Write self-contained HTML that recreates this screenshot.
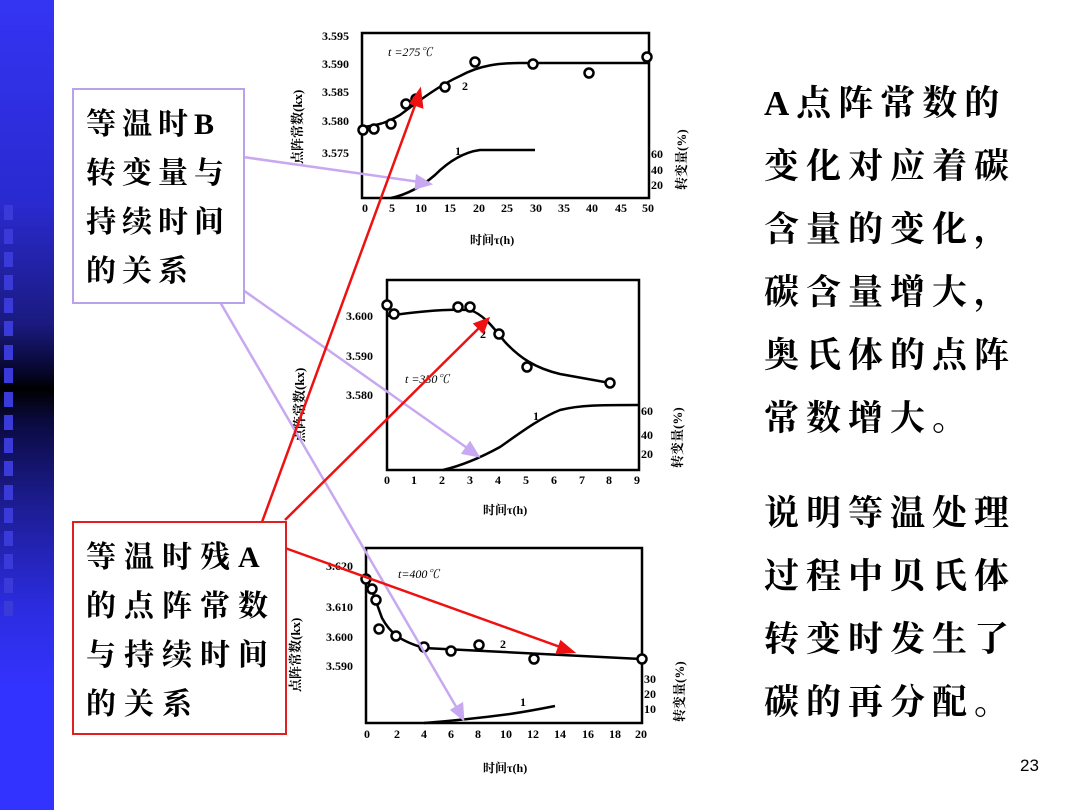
<!DOCTYPE html>
<html><head><meta charset="utf-8"><style>
body{margin:0;width:1080px;height:810px;background:#fff;position:relative;overflow:hidden;font-family:"Liberation Serif","Noto Serif CJK SC",serif;}
.bar{position:absolute;left:0;top:0;width:54px;height:810px;background:linear-gradient(to bottom,#3434f4 0%,#2a2ad0 25%,#1a1a80 40%,#06062a 46%,#000 48%,#0a0a40 52%,#1c1c90 62%,#2c2ce0 75%,#3333ff 85%,#3333ff 100%);}
.sq{position:absolute;left:4px;width:9px;height:15px;background:#3a3ad8;}
.box{position:absolute;background:#fff;font-weight:bold;font-size:30px;line-height:49px;padding:10px 0 0 12px;letter-spacing:6px;white-space:nowrap;}
.rt{position:absolute;left:764px;font-size:35px;font-weight:bold;line-height:63px;letter-spacing:7px;white-space:nowrap;}
</style></head><body>
<div class="bar"></div>
<div class="sq" style="top:205px"></div><div class="sq" style="top:229px"></div><div class="sq" style="top:252px"></div><div class="sq" style="top:275px"></div><div class="sq" style="top:298px"></div><div class="sq" style="top:321px"></div><div class="sq" style="top:345px"></div><div class="sq" style="top:368px"></div><div class="sq" style="top:392px"></div><div class="sq" style="top:415px"></div><div class="sq" style="top:438px"></div><div class="sq" style="top:461px"></div><div class="sq" style="top:485px"></div><div class="sq" style="top:508px"></div><div class="sq" style="top:531px"></div><div class="sq" style="top:554px"></div><div class="sq" style="top:578px"></div><div class="sq" style="top:601px"></div>
<svg width="1080" height="810" style="position:absolute;left:0;top:0" font-family="Liberation Serif,Noto Serif CJK SC,serif">
<g fill="none" stroke="#000" stroke-width="2.5">
<rect x="362" y="33" width="287" height="165"/>
<rect x="387" y="280" width="252" height="190"/>
<rect x="366" y="548" width="276" height="175"/>
<path d="M363,127 C380,125 388,122 400,115 C420,100 440,85 460,76 C480,65 500,63 520,63 L649,63"/>
<path d="M391,198 C405,195 420,188 435,175 C450,160 465,152 480,150 L535,150"/>
<path d="M387,316 C420,311 450,309 470,310 C485,315 495,330 505,342 C520,358 535,368 560,374 L610,383"/>
<path d="M443,470 C460,466 480,458 500,447 C520,433 540,418 560,410 C580,405 600,405 639,405"/>
<path d="M366,579 C372,588 376,602 382,618 C390,633 400,641 424,648 L642,659"/>
<path d="M424,723 C450,721 480,718 510,714 C530,711 545,708 555,706"/>
</g>
<g fill="#fff" stroke="#000" stroke-width="2.5">
<circle cx="363" cy="130" r="4.5"/><circle cx="374" cy="129" r="4.5"/><circle cx="391" cy="124" r="4.5"/><circle cx="406" cy="104" r="4.5"/><circle cx="416" cy="99" r="4.5"/><circle cx="445" cy="87" r="4.5"/><circle cx="475" cy="62" r="4.5"/><circle cx="533" cy="64" r="4.5"/><circle cx="589" cy="73" r="4.5"/><circle cx="647" cy="57" r="4.5"/>
<circle cx="387" cy="305" r="4.5"/><circle cx="394" cy="314" r="4.5"/><circle cx="458" cy="307" r="4.5"/><circle cx="470" cy="307" r="4.5"/><circle cx="499" cy="334" r="4.5"/><circle cx="527" cy="367" r="4.5"/><circle cx="610" cy="383" r="4.5"/>
<circle cx="366" cy="579" r="4.5"/><circle cx="372" cy="589" r="4.5"/><circle cx="376" cy="600" r="4.5"/><circle cx="379" cy="629" r="4.5"/><circle cx="396" cy="636" r="4.5"/><circle cx="424" cy="647" r="4.5"/><circle cx="451" cy="651" r="4.5"/><circle cx="479" cy="645" r="4.5"/><circle cx="534" cy="659" r="4.5"/><circle cx="642" cy="659" r="4.5"/>
</g>
<g font-size="12" fill="#000" font-weight="bold">
<text x="322" y="40">3.595</text><text x="322" y="68">3.590</text><text x="322" y="96">3.585</text><text x="322" y="125">3.580</text><text x="322" y="157">3.575</text>
<text x="365" y="212" text-anchor="middle">0</text><text x="392" y="212" text-anchor="middle">5</text><text x="421" y="212" text-anchor="middle">10</text><text x="450" y="212" text-anchor="middle">15</text><text x="479" y="212" text-anchor="middle">20</text><text x="507" y="212" text-anchor="middle">25</text><text x="536" y="212" text-anchor="middle">30</text><text x="564" y="212" text-anchor="middle">35</text><text x="592" y="212" text-anchor="middle">40</text><text x="621" y="212" text-anchor="middle">45</text><text x="648" y="212" text-anchor="middle">50</text>
<text x="651" y="158">60</text><text x="651" y="174">40</text><text x="651" y="189">20</text>
<text x="388" y="56" font-weight="normal" font-style="italic">t =275℃</text><text x="462" y="90">2</text><text x="455" y="155">1</text>
<text x="470" y="244" font-size="12">时间τ(h)</text>
<text x="346" y="320">3.600</text><text x="346" y="360">3.590</text><text x="346" y="399">3.580</text>
<text x="387" y="484" text-anchor="middle">0</text><text x="414" y="484" text-anchor="middle">1</text><text x="442" y="484" text-anchor="middle">2</text><text x="470" y="484" text-anchor="middle">3</text><text x="498" y="484" text-anchor="middle">4</text><text x="526" y="484" text-anchor="middle">5</text><text x="554" y="484" text-anchor="middle">6</text><text x="582" y="484" text-anchor="middle">7</text><text x="609" y="484" text-anchor="middle">8</text><text x="637" y="484" text-anchor="middle">9</text>
<text x="641" y="415">60</text><text x="641" y="439">40</text><text x="641" y="458">20</text>
<text x="405" y="383" font-weight="normal" font-style="italic">t =350℃</text><text x="480" y="338">2</text><text x="533" y="420">1</text>
<text x="483" y="514">时间τ(h)</text>
<text x="326" y="570">3.620</text><text x="326" y="611">3.610</text><text x="326" y="641">3.600</text><text x="326" y="670">3.590</text>
<text x="367" y="738" text-anchor="middle">0</text><text x="397" y="738" text-anchor="middle">2</text><text x="424" y="738" text-anchor="middle">4</text><text x="451" y="738" text-anchor="middle">6</text><text x="478" y="738" text-anchor="middle">8</text><text x="506" y="738" text-anchor="middle">10</text><text x="533" y="738" text-anchor="middle">12</text><text x="560" y="738" text-anchor="middle">14</text><text x="588" y="738" text-anchor="middle">16</text><text x="615" y="738" text-anchor="middle">18</text><text x="641" y="738" text-anchor="middle">20</text>
<text x="644" y="683">30</text><text x="644" y="698">20</text><text x="644" y="713">10</text>
<text x="398" y="578" font-weight="normal" font-style="italic">t=400℃</text><text x="500" y="648">2</text><text x="520" y="706">1</text>
<text x="483" y="772">时间τ(h)</text>
<text transform="translate(302,164) rotate(-90)" font-size="13">点阵常数(kx)</text>
<text transform="translate(304,442) rotate(-90)" font-size="13">点阵常数(kx)</text>
<text transform="translate(300,692) rotate(-90)" font-size="13">点阵常数(kx)</text>
<text transform="translate(686,190) rotate(-90)" font-size="13">转变量(%)</text>
<text transform="translate(682,468) rotate(-90)" font-size="13">转变量(%)</text>
<text transform="translate(684,722) rotate(-90)" font-size="13">转变量(%)</text>
</g>
<g stroke="#c8a8f0" stroke-width="2.5" fill="#c8a8f0">
<line x1="243" y1="157" x2="420" y2="182"/><polygon points="430,184 417,176 416,188"/>
<line x1="243" y1="290" x2="470" y2="450"/><polygon points="478,456 470,443 463,453"/>
<line x1="220" y1="302" x2="458" y2="710"/><polygon points="463,719 462,704 452,710"/>
</g>
<g stroke="#ee1111" stroke-width="2.5" fill="#ee1111">
<line x1="262" y1="522" x2="417" y2="100"/><polygon points="420,90 411,103 422,107"/>
<line x1="285" y1="520" x2="480" y2="327"/><polygon points="488,319 475,324 483,332"/>
<line x1="285" y1="548" x2="563" y2="648"/><polygon points="573,652 561,642 557,653"/>
</g>
</svg>
<div class="box" style="left:72px;top:88px;width:157px;height:202px;border:2px solid #b9a2ea;">等温时B<br>转变量与<br>持续时间<br>的关系</div>
<div class="box" style="left:72px;top:521px;width:199px;height:200px;border:2px solid #e02020;letter-spacing:8px;">等温时残A<br>的点阵常数<br>与持续时间<br>的关系</div>
<div class="rt" style="top:72px">A点阵常数的<br>变化对应着碳<br>含量的变化，<br>碳含量增大，<br>奥氏体的点阵<br>常数增大。</div>
<div class="rt" style="top:482px">说明等温处理<br>过程中贝氏体<br>转变时发生了<br>碳的再分配。</div>
<div style="position:absolute;left:1020px;top:756px;font-size:17px;font-family:'Liberation Sans',sans-serif">23</div>
</body></html>
